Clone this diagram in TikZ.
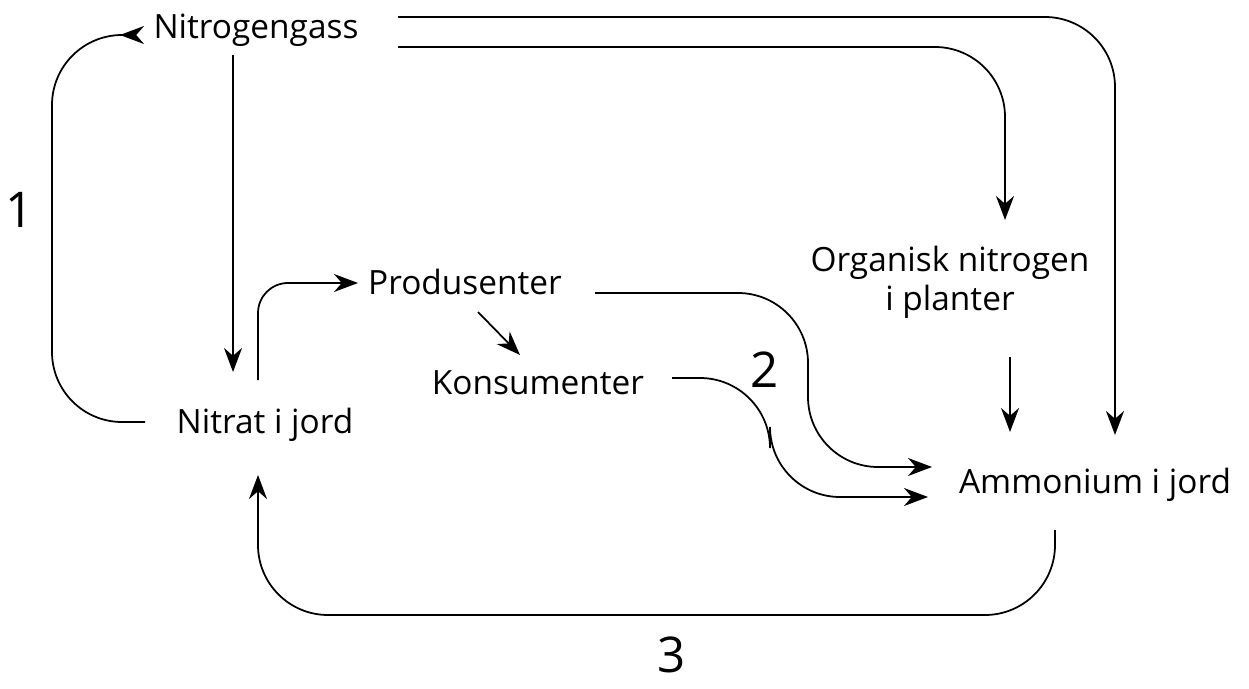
\documentclass[tikz,border=0pt]{standalone}
\usepackage{fontspec}
\setmainfont{Open Sans}
\usetikzlibrary{arrows.meta}
\begin{document}
\begin{tikzpicture}[x=0.01cm,y=-0.01cm,
	lbl/.style={font=\fontsize{9.5}{11}\selectfont,inner sep=1pt,align=center},
	num/.style={font=\fontsize{14}{16}\selectfont},
	flow/.style={-{Stealth[length=2.4mm,width=1.8mm]},line width=0.5pt,rounded corners=7mm}]
	\useasboundingbox (0,0) rectangle (1249,688);
	% boxes of text
	\node[lbl] (gass) at (256,30) {Nitrogengass};
	\node[lbl] (nitrat) at (265,425) {Nitrat i jord};
	\node[lbl] (prod) at (465,282) {Produsenter};
	\node[lbl] (kons) at (538,383) {Konsumenter};
	\node[lbl] (org) at (950,282) {Organisk nitrogen\\i planter};
	\node[lbl] (amm) at (1095,485) {Ammonium i jord};
	% numbers
	\node[num] at (20,210) {1};
	\node[num] at (765,370) {2};
	\node[num] at (672,655) {3};
	% free ends
	\foreach \n/\x/\y in {a/233/55, b/233/372, c/145,422, d/120/35, e/398/17, f/1115/435,
		g/398/47, h/1005/220, i/1010/357, j/1010/432, k/258/380, l/358/283,
		m/478/312, n/520/355, o/595/293, p/932/467, q/672/378, r/928/497,
		s/1055/530, t/258/475}{
		\coordinate (\n) at (\x,\y);
	}
	\coordinate (c) at (145,422);
	\draw[flow] (a) -- (b);
	\draw[flow] (c) -- (52,422) -- (52,35) -- (d);
	\draw[flow] (e) -- (1115,17) -- (f);
	\draw[flow] (g) -- (1005,47) -- (h);
	\draw[flow] (i) -- (j);
	\draw[flow,rounded corners=3mm] (k) -- (258,283) -- (l);
	\draw[flow] (m) -- (n);
	\draw[flow] (o) -- (808,293) -- (808,467) -- (p);
	\draw[flow] (q) -- (770,378) -- (770,497) -- (r);
	\draw[flow] (s) -- (1055,615) -- (258,615) -- (t);
\end{tikzpicture}
\end{document}
